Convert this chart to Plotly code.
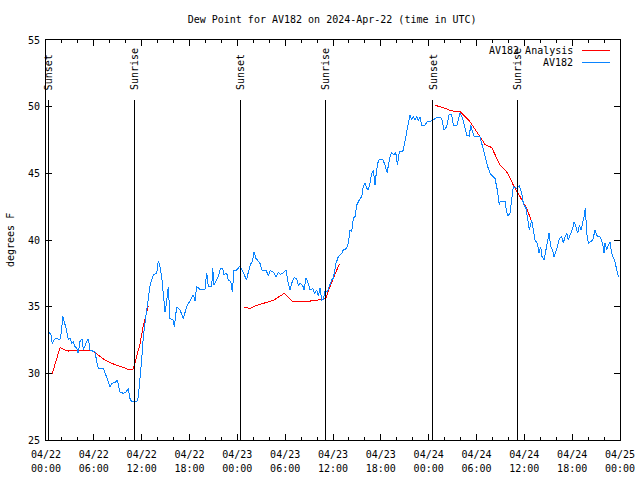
import pandas as pd
import plotly.graph_objects as go

START = pd.Timestamp("2024-04-22 00:00")

# Observations (AV182): hours since 2024-04-22 00:00 UTC, dew point in F
obs_hours = [0.29, 0.59, 0.79, 1.13, 1.76, 1.97, 2.09, 2.26, 2.51, 2.80, 3.01, 3.22, 3.42, 3.64, 3.85, 4.05, 4.26, 4.55, 4.68, 5.11,
             5.31, 5.52, 6.15, 6.36, 6.56, 7.19, 7.61, 8.03, 8.24, 8.66, 8.94, 9.28, 9.70, 10.04, 10.32, 10.54, 10.75, 11.38, 11.58, 11.79,
             12.00, 12.21, 12.42, 12.63, 12.83, 13.05, 13.46, 13.89, 14.09, 14.30, 14.51, 14.71, 14.93, 15.14, 15.34, 15.55, 15.97, 16.09, 16.40, 16.81,
             17.22, 17.65, 18.06, 18.48, 18.69, 18.90, 19.32, 19.94, 20.16, 20.36, 20.79, 20.91, 21.07, 21.41, 21.61, 21.91, 22.16, 22.33, 22.67, 22.87,
             23.17, 23.37, 23.58, 23.92, 24.25, 24.34, 24.55, 24.96, 25.17, 25.38, 25.68, 25.88, 26.09, 26.34, 26.63, 26.84, 27.10, 27.60, 27.89, 28.10,
             28.51, 28.85, 29.14, 29.44, 29.77, 30.11, 30.39, 30.61, 30.82, 31.15, 31.45, 31.65, 31.86, 32.20, 32.36, 32.61, 32.90, 33.12, 33.46, 33.66,
             33.96, 34.16, 34.37, 34.58, 34.78, 35.00, 35.29, 35.62, 35.84, 36.04, 36.38, 36.67, 37.09, 37.29, 37.72, 37.92, 38.13, 38.35, 38.55, 38.76,
             38.97, 39.30, 39.60, 39.80, 40.02, 40.23, 40.43, 40.64, 40.86, 41.06, 41.27, 41.40, 41.61, 41.81, 42.24, 42.52, 42.81, 42.94, 43.15, 43.36,
             43.65, 43.87, 44.07, 44.32, 44.62, 44.82, 45.03, 45.25, 45.45, 45.66, 45.87, 46.07, 46.29, 46.50, 46.70, 46.91, 47.13, 47.54, 47.83, 48.17,
             48.58, 49.01, 49.42, 49.64, 49.92, 50.26, 50.59, 50.89, 51.09, 51.52, 51.72, 51.93, 52.27, 52.56, 52.77, 53.10, 53.27, 53.48, 53.73, 54.44,
             54.65, 54.86, 55.07, 55.41, 55.70, 55.91, 56.32, 56.61, 56.86, 56.95, 57.58, 57.70, 57.92, 58.20, 58.42, 58.62, 59.04, 59.37, 59.67, 59.87,
             60.21, 60.38, 60.63, 60.93, 61.13, 61.34, 61.63, 61.84, 62.05, 62.22, 62.47, 62.72, 62.88, 63.10, 63.31, 63.56, 63.72, 63.97, 64.14, 64.39,
             64.69, 64.89, 65.10, 65.32, 65.52, 65.82, 66.07, 66.23, 66.48, 66.70, 66.90, 67.11, 67.32, 67.49, 67.65, 67.83, 68.03, 68.33, 68.58, 68.87,
             69.08, 69.28, 69.49, 69.83, 69.99, 70.12, 70.33, 70.53, 70.74, 70.96, 71.16, 71.38, 71.59, 71.79]
obs_dewpt = [33.05, 33.0, 32.25, 32.6, 32.55, 33.25, 34.3, 34.0, 33.4, 32.5, 32.67, 32.25, 32.37, 32.0, 31.9, 31.5, 32.37, 32.6, 31.75, 32.4,
             32.6, 31.75, 31.6, 30.9, 30.4, 30.4, 29.75, 29.0, 29.25, 29.3, 29.5, 28.6, 28.5, 28.6, 28.87, 28.1, 27.87, 27.87, 28.25, 29.5,
             31.0, 32.75, 34.0, 34.75, 35.6, 36.6, 37.4, 37.5, 38.45, 38.0, 37.25, 36.0, 34.6, 35.4, 36.5, 34.12, 34.0, 33.5, 35.0, 34.75,
             34.12, 35.0, 35.4, 35.9, 35.4, 36.5, 36.3, 36.3, 37.55, 36.55, 36.55, 37.9, 36.6, 37.0, 37.25, 37.9, 37.9, 37.4, 37.5, 37.0,
             36.9, 36.1, 37.75, 37.75, 37.95, 38.05, 37.8, 37.3, 37.0, 37.6, 38.2, 38.37, 39.12, 38.62, 38.45, 38.25, 37.75, 37.75, 37.3, 37.7,
             37.6, 37.25, 37.55, 37.42, 37.55, 37.75, 36.75, 36.25, 36.75, 37.2, 37.05, 36.6, 36.75, 36.6, 36.25, 37.17, 36.75, 36.25, 36.37, 36.0,
             36.25, 35.8, 36.37, 35.5, 35.55, 36.17, 36.12, 36.75, 37.0, 37.12, 38.25, 38.75, 39.0, 39.25, 39.37, 39.75, 40.75, 40.62, 41.62, 41.75,
             42.62, 43.0, 43.25, 44.0, 44.25, 43.87, 43.75, 44.25, 45.0, 45.25, 44.12, 44.87, 45.75, 46.05, 46.05, 45.62, 45.0, 45.62, 46.25, 46.55,
             46.37, 46.57, 45.62, 46.62, 46.62, 46.75, 47.5, 48.12, 48.75, 49.37, 49.0, 49.25, 49.0, 49.3, 48.95, 49.25, 48.62, 48.62, 48.87, 48.87,
             49.0, 49.2, 49.2, 49.12, 48.25, 48.5, 49.45, 49.37, 48.62, 48.55, 49.0, 49.55, 49.12, 48.5, 47.87, 47.8, 48.62, 48.12, 47.75, 47.75,
             47.25, 46.75, 46.25, 45.5, 45.0, 44.87, 44.62, 43.75, 42.62, 42.87, 42.87, 42.37, 41.8, 42.0, 43.12, 44.0, 43.87, 44.07, 43.5, 42.75,
             42.37, 41.75, 40.75, 41.5, 40.75, 40.0, 39.75, 39.0, 39.5, 38.75, 38.5, 39.25, 40.0, 40.5, 39.5, 39.25, 38.75, 39.12, 39.5, 40.12,
             40.25, 39.75, 40.25, 40.5, 40.0, 40.5, 40.87, 41.38, 41.0, 40.5, 41.12, 40.75, 41.25, 41.75, 42.37, 40.5, 39.75, 39.87, 40.0, 40.75,
             40.37, 40.25, 40.25, 39.75, 39.0, 39.75, 39.25, 39.62, 39.87, 39.0, 38.62, 38.37, 37.75, 37.25]

# Analysis (AV182 Analysis): three separate segments (None = gap)
ana_hours = [0.77, 1.76, 2.37, 2.80, 3.22, 5.52, 6.15, 6.78, 7.40, 8.24, 9.28, 10.32, 10.87, 11.16, 11.79, 12.21, 12.83, None,
             24.84, 25.59, 26.43, 27.26, 28.51, 29.89, 30.90, 32.28, 33.12, 34.78, 35.09, 35.62, 36.25, 36.79, None,
             48.80, 49.84, 50.89, 51.93, 53.19, 54.44, 55.07, 55.91, 56.95, 57.87, 58.62, 59.46, 60.30, 60.93]
ana_dewpt = [29.95, 31.93, 31.75, 31.67, 31.75, 31.75, 31.55, 31.25, 31.0, 30.75, 30.5, 30.3, 30.25, 30.8, 32.2, 33.6, 35.05, None,
             34.95, 34.87, 35.1, 35.27, 35.47, 36.0, 35.42, 35.4, 35.42, 35.55, 35.62, 36.5, 37.5, 38.2, None,
             50.1, 49.93, 49.68, 49.65, 48.87, 47.75, 47.17, 46.93, 45.62, 45.05, 44.12, 43.25, 42.37, 41.38]

# Sun events (hours since start)
sun_hours = [0.3, 11.04, 24.34, 35.0, 48.54, 59.08]
sun_labels = ["Sunset", "Sunrise", "Sunset", "Sunrise", "Sunset", "Sunrise"]
sun_line_top = 50.5
sun_text_base = 51.1

# Axis ticks
xtick_hours = list(range(0, 73, 6))
xtick_dates = [(START + pd.Timedelta(hours=h)).strftime("%m/%d") for h in xtick_hours]
xtick_times = [(START + pd.Timedelta(hours=h)).strftime("%H:%M") for h in xtick_hours]


def to_time(hs):
    return [None if h is None else START + pd.Timedelta(hours=h) for h in hs]


FONT = "DejaVu Sans Mono"
RED = "#ff0000"
BLUE = "#0a84ff"
TF = dict(family=FONT, size=10, color="black")

fig = go.Figure()

# sun event vertical lines (on the overlay axis so that it exists)
sx, sy = [], []
for t in to_time(sun_hours):
    sx += [t, t, None]
    sy += [sun_line_top, 25, None]
fig.add_trace(go.Scatter(x=sx, y=sy, mode="lines", xaxis="x2", line=dict(color="black", width=1),
                         showlegend=False, hoverinfo="skip"))

fig.add_trace(go.Scatter(x=to_time(ana_hours), y=ana_dewpt, mode="lines", name="AV182 Analysis",
                         line=dict(color=RED, width=1), connectgaps=False, showlegend=False))
fig.add_trace(go.Scatter(x=to_time(obs_hours), y=obs_dewpt, mode="lines", name="AV182",
                         line=dict(color=BLUE, width=1), showlegend=False))

for t, lab in zip(to_time(sun_hours), sun_labels):
    fig.add_annotation(x=t, y=sun_text_base, xref="x", yref="y",
                       text=lab, textangle=-90, showarrow=False, xanchor="center", yanchor="bottom", font=TF)

# custom legend (text right-aligned, sample on the right, gnuplot-style)
legend_items = [("AV182 Analysis", RED, 0.975), ("AV182", BLUE, 0.944)]
for name, col, yy in legend_items:
    fig.add_annotation(x=0.9216, y=yy, xref="paper", yref="paper", text=name, showarrow=False,
                       xanchor="right", yanchor="middle", font=TF)
    fig.add_shape(type="line", xref="paper", yref="paper", x0=0.934, x1=0.983, y0=yy, y1=yy,
                  line=dict(color=col, width=1))

# y-axis title
fig.add_annotation(x=0, y=0.5, xref="paper", yref="paper", text="degrees F", textangle=-90,
                   showarrow=False, xanchor="center", yanchor="middle", xshift=-36, font=TF)

fig.update_layout(
    width=640, height=480,
    margin=dict(l=46, r=20, t=40, b=40, autoexpand=False),
    paper_bgcolor="white", plot_bgcolor="white",
    font=TF,
    title=dict(text="Dew Point for AV182 on 2024-Apr-22 (time in UTC)", x=0.519, xanchor="center",
               y=1 - 19 / 480, yanchor="middle", font=TF),
    showlegend=False,
)
xr = [START, START + pd.Timedelta(hours=72)]
fig.update_layout(
    xaxis=dict(
        type="date", range=xr, automargin=False,
        tickmode="array", tickvals=to_time(xtick_hours), ticktext=xtick_dates,
        ticks="inside", ticklen=6, tickcolor="black", showline=True, linecolor="black", linewidth=1,
        mirror="ticks", showgrid=False, zeroline=False, ticklabelstandoff=5,
        minor=dict(ticks="inside", ticklen=3, tickcolor="black", dtick=2 * 3600 * 1000, showgrid=False),
        tickfont=TF,
    ),
    xaxis2=dict(
        type="date", range=xr, overlaying="x", matches="x", side="bottom", anchor="y", automargin=False,
        tickmode="array", tickvals=to_time(xtick_hours), ticktext=xtick_times,
        ticks="", showline=False, showgrid=False, zeroline=False, ticklabelstandoff=21,
        tickfont=TF,
    ),
    yaxis=dict(
        range=[25, 55], tickmode="linear", tick0=25, dtick=5, automargin=False,
        ticks="inside", ticklen=6, tickcolor="black", showline=True, linecolor="black", linewidth=1,
        mirror="ticks", showgrid=False, zeroline=False, ticklabelstandoff=3,
        tickfont=TF,
    ),
)

# remove the page's default 8px body margin so the 640x480 figure fills the window,
# and render lines crisp (un-antialiased) like the gnuplot original
post = (
    "document.body.style.margin='0px';"
    "document.querySelectorAll('.scatterlayer path.js-line, .shapelayer path').forEach(function(p){"
    "p.style.shapeRendering='crispEdges';});"
)
fig.write_html("out.html", config={"displayModeBar": False}, post_script=post)
